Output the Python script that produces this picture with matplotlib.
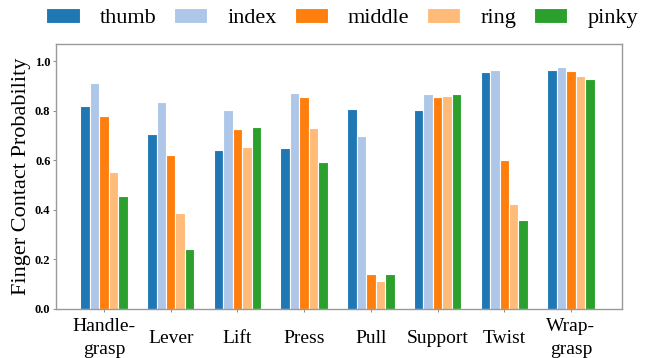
import numpy as np
import matplotlib
matplotlib.use("Agg")
import matplotlib.pyplot as plt

plt.rcParams["font.family"] = ["Liberation Serif", "DejaVu Serif"]

# Data
actions = ["Handle-\ngrasp", "Lever", "Lift", "Press", "Pull", "Support", "Twist", "Wrap-\ngrasp"]
fingers = ["thumb", "index", "middle", "ring", "pinky"]
thumb = [0.820, 0.708, 0.644, 0.652, 0.808, 0.804, 0.958, 0.966]
index = [0.914, 0.837, 0.805, 0.874, 0.700, 0.867, 0.964, 0.979]
middle = [0.778, 0.621, 0.728, 0.855, 0.140, 0.855, 0.601, 0.962]
ring = [0.555, 0.386, 0.653, 0.731, 0.113, 0.862, 0.422, 0.942]
pinky = [0.457, 0.242, 0.735, 0.594, 0.140, 0.868, 0.358, 0.927]
colors = ["#1f77b4", "#aec7e8", "#ff7f0e", "#ffbb78", "#2ca02c"]

series = [thumb, index, middle, ring, pinky]

fig = plt.figure(figsize=(6.48, 3.58), dpi=100)
ax = fig.add_axes([0.0864, 0.137, 0.874, 0.740])

x = np.arange(len(actions))
width = 0.142
for i, (name, vals) in enumerate(zip(fingers, series)):
    ax.bar(x + (i - 2) * width, vals, width, color=colors[i], label=name,
           edgecolor="white", linewidth=0.8)

ax.set_xlim(-0.72, 7.77)
ax.set_ylim(0, 1.07)
ax.set_xticks(x)
ax.set_xticklabels(actions, fontsize=14, linespacing=1.45)
for lbl in ax.get_xticklabels():
    lbl.set_verticalalignment("center")
ax.set_yticks([0.0, 0.2, 0.4, 0.6, 0.8, 1.0])
ax.set_yticklabels(["0.0", "0.2", "0.4", "0.6", "0.8", "1.0"], fontsize=9, fontweight="bold")
ax.tick_params(axis="x", length=2, width=0.6, color="#777777", pad=19)
ax.tick_params(axis="y", length=2, width=0.6, color="#777777", pad=2)
ax.set_ylabel("Finger Contact Probability", fontsize=16, labelpad=3)
for sp in ax.spines.values():
    sp.set_color("#999999")
    sp.set_linewidth(1.0)

fig.legend(loc="center", bbox_to_anchor=(0.528, 0.95), ncol=5, frameon=False,
           fontsize=16, handlelength=1.5, handleheight=0.64, handletextpad=0.9,
           columnspacing=0.8, borderpad=0.1)

fig.savefig("out.png", dpi=100)
